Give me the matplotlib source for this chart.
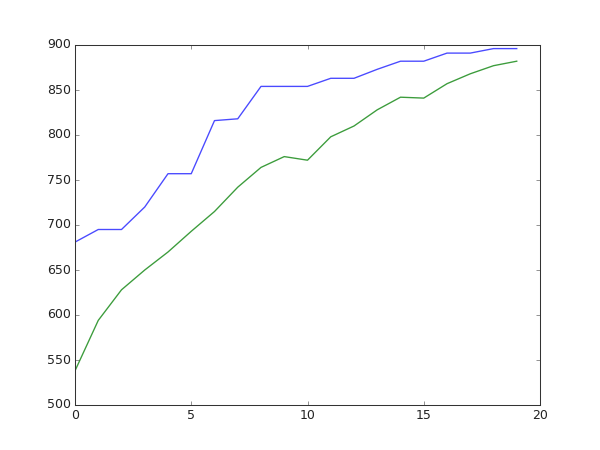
import matplotlib
matplotlib.use('Agg')
import matplotlib.pyplot as plt

# values
steps = list(range(20))
upper = [681, 695, 695, 720, 757, 757, 816, 818, 854, 854,
         854, 863, 863, 873, 882, 882, 891, 891, 896, 896]
lower = [538, 594, 628, 650, 670, 693, 715, 742, 764, 776,
         772, 798, 810, 828, 842, 841, 857, 868, 877, 882]

plt.style.use('classic')
fig = plt.figure(figsize=(8, 6), dpi=75)
ax = fig.add_subplot(111)
# reference is a bit soft, so slightly lighter colours and thicker lines
ax.plot(steps, upper, color='#4a4aff', lw=1.3)
ax.plot(steps, lower, color='#3c9c3c', lw=1.3)
ax.set_xlim(0, 20)
ax.set_ylim(500, 900)
for sp in ax.spines.values():
    sp.set_color('#333333')
ax.tick_params(colors='#333333', labelcolor='#222222')

fig.savefig('out.png', dpi=75)
